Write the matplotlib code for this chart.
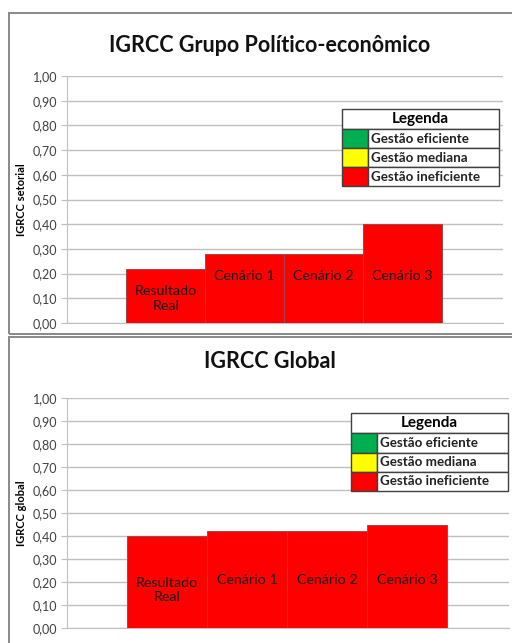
import matplotlib
matplotlib.use("Agg")
import matplotlib.pyplot as plt
from matplotlib.patches import Rectangle
from matplotlib.ticker import FuncFormatter

plt.rcParams["font.family"] = ["Lato", "DejaVu Sans"]

# ── data ─────────────────────────────────────────────────────────────────────
categories = ["Resultado\nReal", "Cenário 1", "Cenário 2", "Cenário 3"]
setorial_values = [0.22, 0.28, 0.28, 0.40]
global_values = [0.40, 0.42, 0.42, 0.45]
yticks = [i / 10 for i in range(11)]

legend_title = "Legenda"
legend_labels = ["Gestão eficiente", "Gestão mediana", "Gestão ineficiente"]
legend_colors = ["#00B050", "#FFFF00", "#FF0000"]

BAR_RED = "#FF0000"
GRID = "#C0C0C0"
W, H = 512, 643


def fig_rect(x0, y0, x1, y1):
    """pixel box (top-left origin) -> figure fraction [l, b, w, h]"""
    return [x0 / W, 1 - y1 / H, (x1 - x0) / W, (y1 - y0) / H]


def draw_panel(fig, box, title, title_y, ylabel, values, label_y, leg_box):
    ax = fig.add_axes(fig_rect(*box))
    x = list(range(len(values)))
    ax.bar(x, values, width=1.0, color=BAR_RED, edgecolor="#A04848",
           linewidth=0.7, zorder=3)
    for xi, lab, ly in zip(x, categories, label_y):
        ax.text(xi, ly, lab, ha="center", va="center", fontsize=10.3,
                color="#1a1a1a", zorder=4, linespacing=1.25)
    ax.set_xlim(-1.25, 4.27)
    ax.set_ylim(0, 1)
    ax.set_yticks(yticks)
    ax.yaxis.set_major_formatter(FuncFormatter(lambda v, p: f"{v:.2f}".replace(".", ",")))
    ax.set_xticks([])
    ax.grid(axis="y", color=GRID, linewidth=1.0, zorder=0)
    for s in ["top", "right"]:
        ax.spines[s].set_visible(False)
    ax.spines["left"].set_color(GRID)
    ax.spines["bottom"].set_color(GRID)
    ax.tick_params(axis="y", length=4, color=GRID, labelsize=9,
                   labelcolor="#404040", pad=3)
    ax.set_ylabel(ylabel, fontsize=8, fontweight="bold", labelpad=4)

    fig.text(270 / W, 1 - title_y / H, title, ha="center", va="center",
             fontsize=15.5, fontweight="bold", color="#111111")

    # legend table
    lx0, ly0, lx1, ly1, sw = leg_box
    rows = 1 + len(legend_labels)
    rh = (ly1 - ly0) / rows
    head = rh * 1.05
    rh = (ly1 - ly0 - head) / len(legend_labels)
    fig.add_artist(Rectangle((lx0 / W, 1 - (ly0 + head) / H), (lx1 - lx0) / W, head / H,
                             transform=fig.transFigure, facecolor="white",
                             edgecolor="#404040", linewidth=1.0))
    fig.text((lx0 + lx1) / 2 / W, 1 - (ly0 + head / 2) / H, legend_title,
             ha="center", va="center", fontsize=11, fontweight="bold")
    for i, (lab, col) in enumerate(zip(legend_labels, legend_colors)):
        top = ly0 + head + i * rh
        fig.add_artist(Rectangle((lx0 / W, 1 - (top + rh) / H), (sw - lx0) / W, rh / H,
                                 transform=fig.transFigure, facecolor=col,
                                 edgecolor="#404040", linewidth=1.0))
        fig.add_artist(Rectangle((sw / W, 1 - (top + rh) / H), (lx1 - sw) / W, rh / H,
                                 transform=fig.transFigure, facecolor="white",
                                 edgecolor="#404040", linewidth=1.0))
        fig.text((sw + 3) / W, 1 - (top + rh / 2) / H, lab, ha="left", va="center",
                 fontsize=9.6, fontweight="bold", color="#222222")
    return ax


fig = plt.figure(figsize=(W / 100, H / 100), dpi=100)

# panel frames
fig.add_artist(Rectangle((9 / W, 1 - 334 / H), 520 / W, 321 / H,
                         transform=fig.transFigure, fill=False,
                         edgecolor="#808080", linewidth=1.3))
fig.add_artist(Rectangle((9 / W, 1 - 660 / H), 520 / W, 323 / H,
                         transform=fig.transFigure, fill=False,
                         edgecolor="#808080", linewidth=1.3))

draw_panel(fig, (67, 76, 503, 323), "IGRCC Grupo Político-econômico", 46,
           "IGRCC setorial", setorial_values, [0.10, 0.19, 0.19, 0.19],
           (342, 109, 499, 186, 368))
draw_panel(fig, (67, 398, 509, 628), "IGRCC Global", 362,
           "IGRCC global", global_values, [0.165, 0.21, 0.21, 0.21],
           (351, 413, 508, 491, 377))

fig.savefig("out.png", dpi=100)
